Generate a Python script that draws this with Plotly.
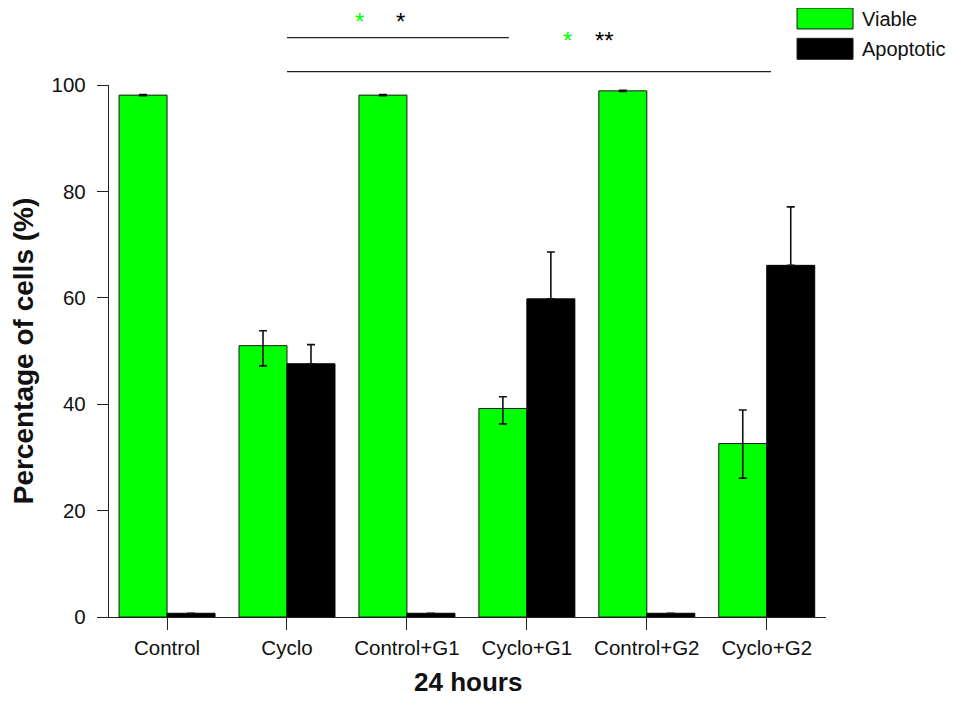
import plotly.graph_objects as go

categories = ["Control", "Cyclo", "Control+G1", "Cyclo+G1", "Control+G2", "Cyclo+G2"]
viable = [98.1, 51.0, 98.1, 39.2, 98.9, 32.6]
viable_err_plus = [0.1, 2.8, 0.1, 2.2, 0.1, 6.3]
viable_err_minus = [0.1, 3.8, 0.1, 2.9, 0.1, 6.5]
apoptotic = [0.7, 47.6, 0.7, 59.8, 0.7, 66.1]
apoptotic_err = [0.0, 3.6, 0.0, 8.8, 0.0, 11.0]
series_names = ["Viable", "Apoptotic"]
series_colors = ["#00FF00", "#000000"]
x_title = "24 hours"
y_title = "Percentage of cells (%)"

# significance brackets: (x start, x end, level) in category / data units
brackets = [(1.0, 2.85, 108.9), (1.0, 5.035, 102.5)]
# stars: (x, level, text, color)
stars = [(1.605, 112.5, "*", "#00FF00"), (1.945, 112.5, "*", "#000000"),
         (3.34, 108.8, "*", "#00FF00"), (3.645, 108.8, "**", "#000000")]

YMAX = 100.0
FONT = "Liberation Sans, Arial, sans-serif"

fig = go.Figure()
fig.add_trace(go.Bar(
    x=categories, y=viable, name=series_names[0],
    marker=dict(color=series_colors[0], line=dict(color="#1a1a1a", width=1)),
    error_y=dict(type="data", symmetric=False, array=viable_err_plus,
                 arrayminus=viable_err_minus, color="#111111", thickness=1.6, width=4),
))
fig.add_trace(go.Bar(
    x=categories, y=apoptotic, name=series_names[1],
    marker=dict(color=series_colors[1], line=dict(color="#000000", width=1)),
    error_y=dict(type="data", symmetric=False, array=apoptotic_err,
                 arrayminus=[0] * len(apoptotic_err), color="#111111", thickness=1.6, width=4),
))

shapes = []
for x0, x1, lvl in brackets:
    shapes.append(dict(type="line", xref="x", yref="paper", x0=x0, x1=x1,
                       y0=lvl / YMAX, y1=lvl / YMAX, line=dict(color="#222222", width=1.3)))

annotations = []
for x, lvl, txt, col in stars:
    annotations.append(dict(x=x, y=lvl / YMAX, xref="x", yref="paper", text=txt,
                            showarrow=False, yshift=-2.5,
                            font=dict(family=FONT, size=24, color=col),
                            xanchor="center", yanchor="middle"))

# custom legend (large swatches)
leg_y = [1.125, 1.068]
for name, col, yc in zip(series_names, series_colors, leg_y):
    shapes.append(dict(type="rect", xref="paper", yref="paper", x0=0.9596, x1=1.0377,
                       y0=yc - 0.0197, y1=yc + 0.0197, fillcolor=col,
                       line=dict(color="#1a1a1a", width=1)))
    annotations.append(dict(x=1.048, y=yc, xref="paper", yref="paper", text=name,
                            showarrow=False, xanchor="left", yanchor="middle",
                            font=dict(family=FONT, size=20, color="#111111")))

# x-axis title placed as annotation so it can sit lower than the margin allows
annotations.append(dict(x=0.5, y=-0.154, xref="paper", yref="paper",
                        text="<b>" + x_title + "</b>", showarrow=False,
                        xanchor="center", yanchor="bottom",
                        font=dict(family=FONT, size=26, color="#111111")))

fig.update_layout(
    width=939, height=691,
    margin=dict(l=101, r=121, t=77, b=82, pad=0, autoexpand=False),
    paper_bgcolor="white", plot_bgcolor="white",
    barmode="group", bargap=0.2, bargroupgap=0,
    showlegend=False,
    font=dict(family=FONT, color="#111111"),
    shapes=shapes, annotations=annotations,
    xaxis=dict(type="category", range=[-0.484, 5.494], showline=True, linecolor="#222222",
               linewidth=1.3, ticks="outside", ticklen=12, tickwidth=1.3, tickcolor="#222222",
               showgrid=False, zeroline=False, automargin=False,
               tickfont=dict(family=FONT, size=20.5, color="#111111")),
    yaxis=dict(range=[0, YMAX], showline=True, linecolor="#222222", linewidth=1.3,
               ticks="outside", ticklen=11, tickwidth=1.3, tickcolor="#222222",
               tickvals=[0, 20, 40, 60, 80, 100], showgrid=False, zeroline=False,
               ticklabelstandoff=7, automargin=False,
               tickfont=dict(family=FONT, size=20.5, color="#111111"),
               title=dict(text="<b>" + y_title + "</b>",
                          font=dict(family=FONT, size=28, color="#111111"), standoff=9)),
)

fig.write_html("out.html")
